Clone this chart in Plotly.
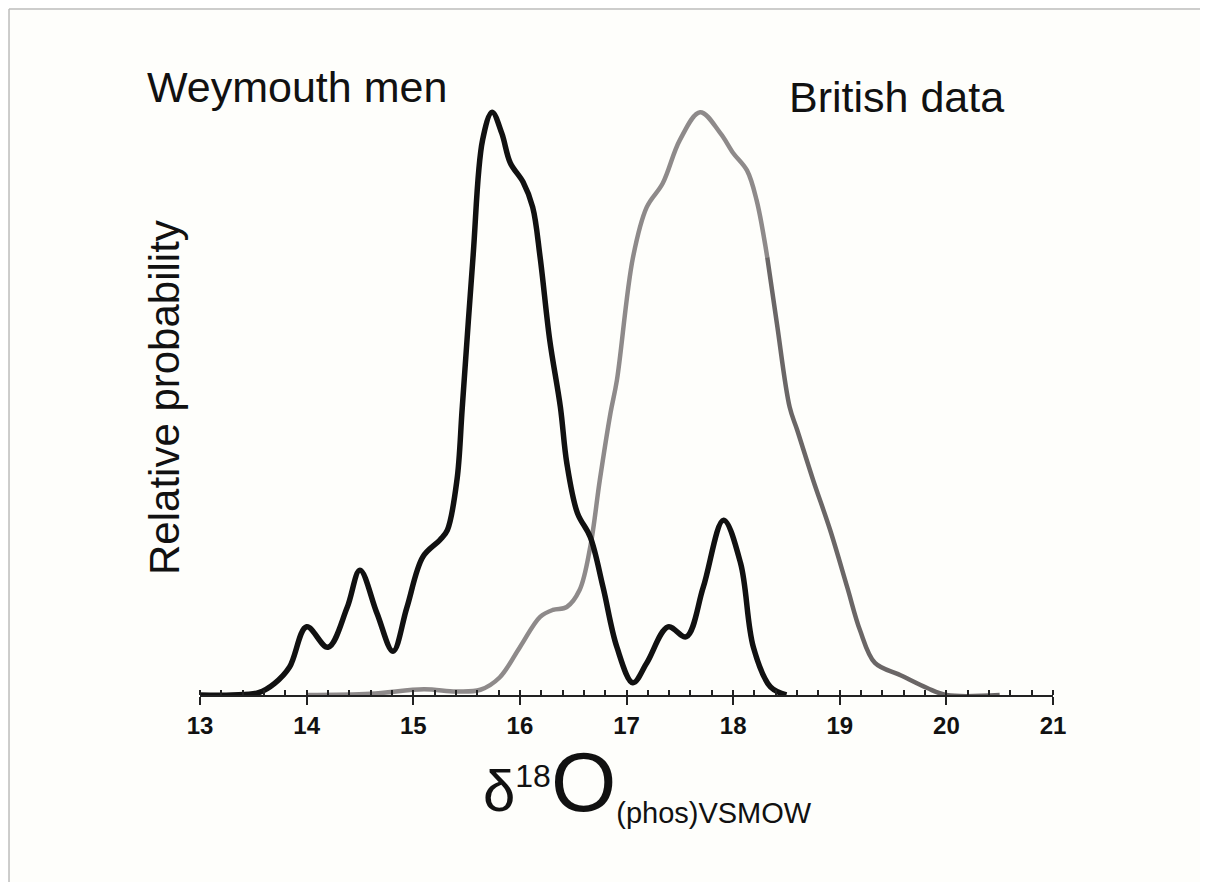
import plotly.graph_objects as go

# Weymouth men (schwarz)
wey_x = [13.0, 13.3, 13.55, 13.7, 13.84, 14.0, 14.2, 14.38, 14.5, 14.66, 14.81, 14.94,
         15.09, 15.25, 15.32, 15.41, 15.46, 15.56, 15.65, 15.74, 15.83, 15.91, 16.03,
         16.12, 16.19, 16.28, 16.38, 16.44, 16.54, 16.66, 16.78, 16.91, 17.06, 17.19,
         17.39, 17.56, 17.72, 17.91, 18.07, 18.19, 18.35, 18.5]
wey_y = [0.0, 0.0, 0.004, 0.02, 0.048, 0.117, 0.082, 0.15, 0.214, 0.14, 0.075, 0.15,
         0.237, 0.266, 0.283, 0.369, 0.494, 0.75, 0.952, 1.0, 0.964, 0.913, 0.88,
         0.837, 0.751, 0.609, 0.494, 0.398, 0.312, 0.271, 0.185, 0.082, 0.021, 0.055,
         0.117, 0.10, 0.185, 0.30, 0.226, 0.082, 0.014, 0.0]

# British data (grau), zwei Abschnitte wegen Farbwechsel
brit_x1 = [14.0, 14.6, 15.1, 15.4, 15.63, 15.81, 16.0, 16.19, 16.31, 16.44, 16.56, 16.66,
           16.75, 16.85, 16.91, 17.06, 17.19, 17.34, 17.5, 17.69, 17.88, 18.0, 18.13,
           18.22, 18.32]
brit_y1 = [0.0, 0.002, 0.01, 0.006, 0.009, 0.03, 0.082, 0.134, 0.146, 0.151, 0.18, 0.254,
           0.369, 0.484, 0.54, 0.75, 0.837, 0.878, 0.952, 1.0, 0.964, 0.93, 0.90,
           0.849, 0.751]
brit_x2 = [18.32, 18.41, 18.53, 18.6, 18.75, 18.91, 19.07, 19.19, 19.33, 19.57, 19.82,
           20.0, 20.5]
brit_y2 = [0.751, 0.638, 0.494, 0.455, 0.369, 0.283, 0.185, 0.111, 0.055, 0.034, 0.012,
           0.0, 0.0]

x_ticks = [13, 14, 15, 16, 17, 18, 19, 20, 21]

bg = "#fefefb"
font = "Liberation Sans, Arial, sans-serif"

fig = go.Figure()

fig.add_trace(go.Scatter(x=brit_x1, y=brit_y1, mode='lines', line_shape='spline',
                         line=dict(color='#8e8a8a', width=4.5), showlegend=False))
fig.add_trace(go.Scatter(x=brit_x2, y=brit_y2, mode='lines', line_shape='spline',
                         line=dict(color='#6a6666', width=4.5), showlegend=False))
fig.add_trace(go.Scatter(x=wey_x, y=wey_y, mode='lines', line_shape='spline',
                         line=dict(color='#111111', width=5.5), showlegend=False))

xlabel = ('<span style="font-size:58px">δ</span>'
          '<sup><span style="font-size:32px">18</span></sup>'
          '<span style="font-size:84px">O</span>'
          '<sub><span style="font-size:29px">(phos)VSMOW</span></sub>')

# Rahmen oben und links (wie Folienrand)
frame_top = 1.1209
frame_left = -0.2239

fig.update_layout(
    width=1192, height=874,
    margin=dict(l=192, r=147, t=75, b=187),
    paper_bgcolor=bg, plot_bgcolor=bg,
    font=dict(family=font, color='black'),
    xaxis=dict(
        range=[13, 21], tickvals=x_ticks, showgrid=False, zeroline=False,
        showline=True, linecolor='#222222', linewidth=2,
        ticks='outside', ticklen=8, tickwidth=2, tickcolor='#222222',
        tickfont=dict(size=24, family=font, weight='bold', color='#111111'),
        minor=dict(dtick=0.2, ticks='inside', ticklen=5, tickwidth=1.5, tickcolor='#222222'),
    ),
    yaxis=dict(range=[0, 1.05], visible=False),
    shapes=[
        dict(type='line', xref='paper', yref='paper',
             x0=frame_left, x1=1.18, y0=frame_top, y1=frame_top,
             line=dict(color='#bdbdbd', width=1.5)),
        dict(type='line', xref='paper', yref='paper',
             x0=frame_left, x1=frame_left, y0=-0.32, y1=frame_top,
             line=dict(color='#bdbdbd', width=1.5)),
    ],
    annotations=[
        dict(text='Weymouth men', x=(297 - 200) / 853, y=(695 - 87) / 612,
             xref='paper', yref='paper', showarrow=False, xanchor='center', yanchor='middle',
             font=dict(size=43, family=font, color='#111111')),
        dict(text='British data', x=(896 - 200) / 853, y=(695 - 97) / 612,
             xref='paper', yref='paper', showarrow=False, xanchor='center', yanchor='middle',
             font=dict(size=43, family=font, color='#111111')),
        dict(text='Relative probability', x=(165 - 200) / 853, y=(695 - 398) / 612,
             xref='paper', yref='paper', showarrow=False, textangle=-90,
             xanchor='center', yanchor='middle',
             font=dict(size=42, family=font, color='#111111')),
        dict(text=xlabel, x=(647 - 200) / 853, y=(695 - 782) / 612,
             xref='paper', yref='paper', showarrow=False, xanchor='center', yanchor='middle',
             font=dict(size=58, family=font, color='#111111')),
    ],
)

fig.write_html("out.html")
